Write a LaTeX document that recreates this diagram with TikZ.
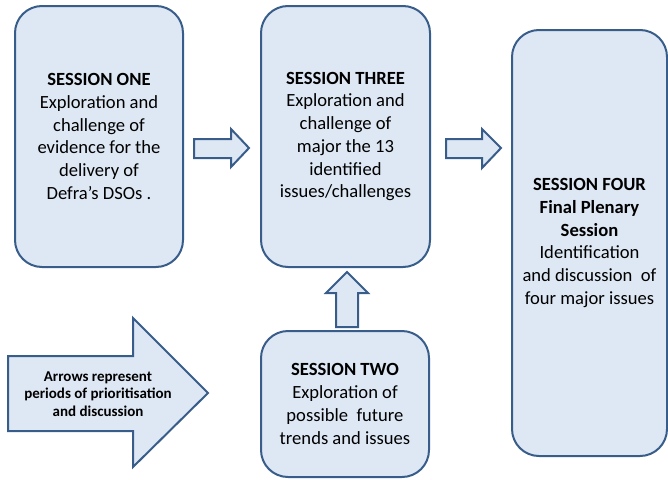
\documentclass[tikz,border=0pt]{standalone}
\usepackage{fontspec}
\setmainfont{Carlito}
\begin{document}
\begin{tikzpicture}[x=1pt,y=-1pt,
  fillc/.style={fill={rgb,255:red,222;green,232;blue,244}},
  session/.style={fillc,draw={rgb,255:red,56;green,93;blue,138},line width=2pt,
    rounded corners=27pt,inner sep=0pt,align=center,
    font=\fontsize{18.6}{22.7}\selectfont},
  blockarrow/.style={fillc,draw={rgb,255:red,56;green,93;blue,138},line width=2pt,line join=miter}]
\useasboundingbox (0,0) rectangle (668,479);
\node[session,minimum width=168pt,minimum height=261pt] (s1) at (99,136.5)
  {\textbf{SESSION ONE}\\Exploration and\\challenge of\\evidence for the\\delivery of\\Defra’s DSOs .};
\node[session,minimum width=169pt,minimum height=261pt] (s3) at (345.5,136.5)
  {\textbf{SESSION THREE}\\Exploration and\\challenge of\\major the 13\\identified\\issues/challenges};
\node[session,minimum width=168pt,minimum height=146pt] (s2) at (345,404)
  {\textbf{SESSION TWO}\\Exploration of\\possible\ \ future\\trends and issues};
\node[session,minimum width=155pt,minimum height=426pt] (s4) at (589.5,243)
  {\textbf{SESSION FOUR}\\\textbf{Final Plenary}\\\textbf{Session}\\Identification\\and discussion\ \ of\\four major issues};
% block arrows
\draw[blockarrow] (194,139) -- (231,139) -- (231,129) -- (249,148) -- (231,167) -- (231,158) -- (194,158) -- cycle;
\draw[blockarrow] (446,139) -- (482,139) -- (482,129) -- (501,148) -- (482,168) -- (482,158) -- (446,158) -- cycle;
\draw[blockarrow] (336,327) -- (336,293) -- (326,293) -- (347,272) -- (368,293) -- (358,293) -- (358,327) -- cycle;
\draw[blockarrow] (8,356) -- (133,356) -- (133,318) -- (208,393) -- (133,467) -- (133,431) -- (8,431) -- cycle;
\node[align=center,inner sep=0pt,font=\bfseries\fontsize{15}{17.5}\selectfont] (legend) at (98,394)
  {Arrows represent\\periods of prioritisation\\and discussion};
\end{tikzpicture}
\end{document}
